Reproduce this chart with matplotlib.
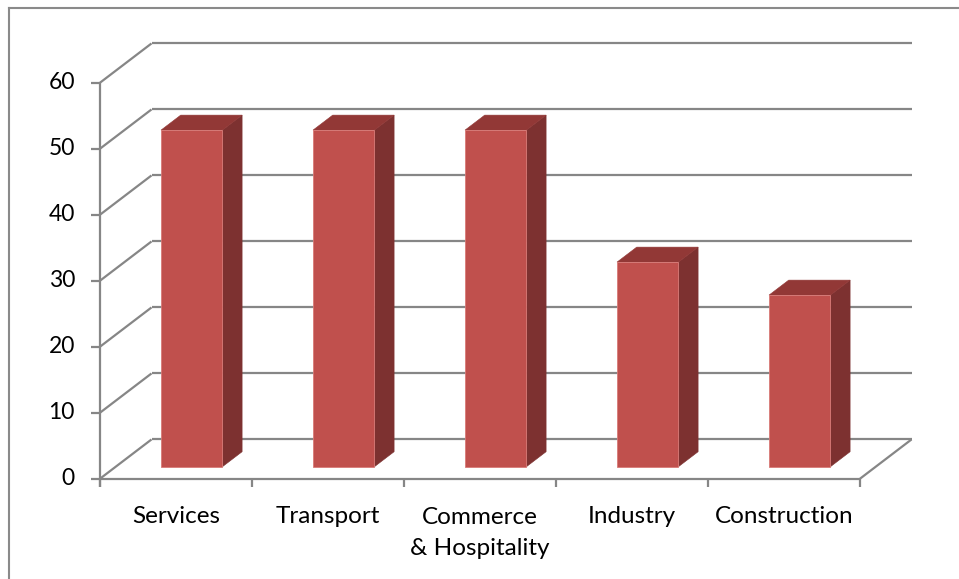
import matplotlib
matplotlib.use("Agg")
import matplotlib.pyplot as plt
from matplotlib.patches import Polygon
from matplotlib.lines import Line2D

categories = ["Services", "Transport", "Commerce\n& Hospitality", "Industry", "Construction"]
values = [51, 51, 51, 31, 26]
y_ticks = [0, 10, 20, 30, 40, 50, 60]

# oblique projection of the depth axis, expressed in data units
DX, DY = 0.339, 5.95
GRID = "#868686"
FRONT, SIDE, TOP = "#C0504D", "#7D3130", "#923836"

W, H = 959, 579
fig = plt.figure(figsize=(W / 100, H / 100), dpi=100)
plt.rcParams["font.family"] = ["Lato", "DejaVu Sans"]

left, right, bottom, top = 100, 860, 478.7, 82.7
ax = fig.add_axes([left / W, (H - bottom) / H, (right - left) / W, (bottom - top) / H])
ax.set_xlim(0, len(categories))
ax.set_ylim(0, 60)
ax.axis("off")

n = len(categories)
units_per_px = 60 / (bottom - top)

def line(xs, ys, z=1, lw=1.6):
    ax.add_line(Line2D(xs, ys, color=GRID, lw=lw, zorder=z, clip_on=False,
                       solid_capstyle="butt"))

# back wall gridlines and left wall diagonals
for v in y_ticks:
    line([DX, n + DX], [v + DY, v + DY])
    line([0, DX], [v, v + DY])
# floor edges
line([0, n], [0, 0])
line([n, n + DX], [0, DY])
# value axis with ticks
line([0, 0], [-1.2, 60])
for v in y_ticks:
    line([-0.06, 0], [v, v])
    ax.text(-0.165, v, str(v), ha="right", va="center", fontsize=16.5,
            color="black", clip_on=False)
# category ticks and labels (first baseline 44 px under the axis, 32 px line pitch)
for i in range(n + 1):
    line([i, i], [-1.2, 0])
for i, cat in enumerate(categories):
    extra = cat.count("\n")
    y = -(44 + 32 * extra) * units_per_px
    ax.text(i + 0.5, y, cat, ha="center", va="baseline", fontsize=17.5,
            color="black", linespacing=1.55, clip_on=False)

# 3D-style bars
hw, d0, d1 = 0.202, 0.305, 0.687
for i, v in enumerate(values):
    c = i + 0.5
    xl, xr = c - hw + d0 * DX, c + hw + d0 * DX
    yb, yt = d0 * DY, v + d0 * DY
    sx, sy = (d1 - d0) * DX, (d1 - d0) * DY
    face = Polygon([(xl, yb), (xr, yb), (xr, yt), (xl, yt)], closed=True,
                   facecolor=FRONT, edgecolor="#D87A77", lw=0.6, zorder=3, clip_on=False)
    side = Polygon([(xr, yb), (xr + sx, yb + sy), (xr + sx, yt + sy), (xr, yt)], closed=True,
                   facecolor=SIDE, edgecolor=SIDE, lw=0.4, zorder=3, clip_on=False)
    lid = Polygon([(xl, yt), (xr, yt), (xr + sx, yt + sy), (xl + sx, yt + sy)], closed=True,
                  facecolor=TOP, edgecolor=TOP, lw=0.4, zorder=3, clip_on=False)
    for p in (side, lid, face):
        ax.add_patch(p)

# outer chart frame (left and top edges)
fig.add_artist(Line2D([8.5 / W, 8.5 / W], [0, 1 - 7.5 / H], color="#8A8A8A", lw=1.5,
                      transform=fig.transFigure))
fig.add_artist(Line2D([8.5 / W, 1], [1 - 7.5 / H, 1 - 7.5 / H], color="#8A8A8A", lw=1.5,
                      transform=fig.transFigure))

fig.savefig("out.png", dpi=100, facecolor="white")
